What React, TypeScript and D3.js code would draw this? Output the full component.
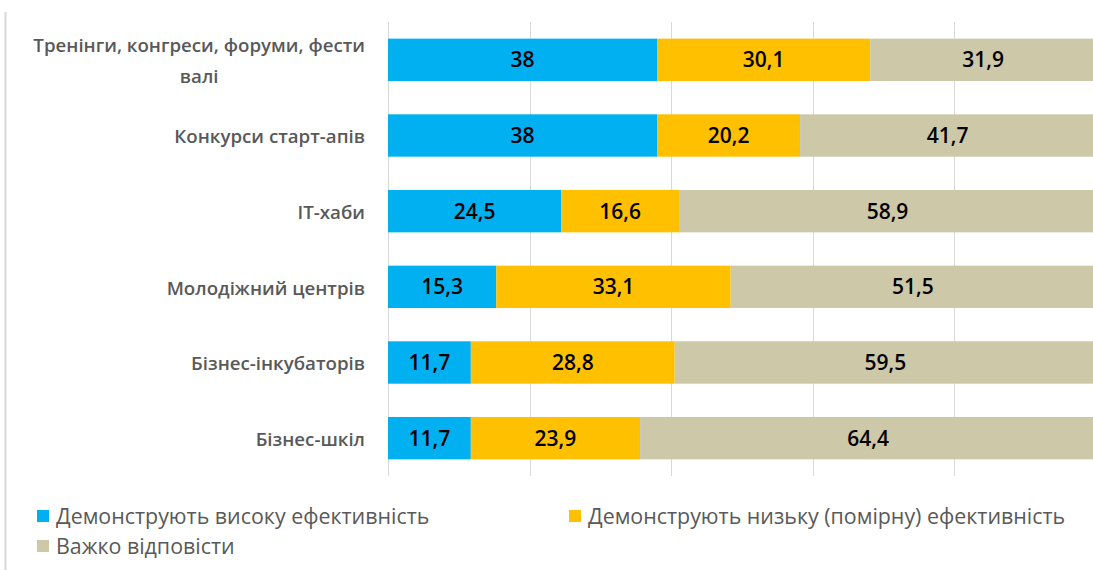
import { useEffect, useRef } from "react";
import * as d3 from "d3";

// categories (first one wraps onto two lines in the original)
const categories = [
  "Тренінги, конгреси, форуми, фести|валі",
  "Конкурси старт-апів",
  "ІТ-хаби",
  "Молодіжний центрів",
  "Бізнес-інкубаторів",
  "Бізнес-шкіл",
];

const seriesNames = [
  "Демонструють високу ефективність",
  "Демонструють низьку (помірну) ефективність",
  "Важко відповісти",
];

const highValues = [38, 38, 24.5, 15.3, 11.7, 11.7];
const lowValues = [30.1, 20.2, 16.6, 33.1, 28.8, 23.9];
const hardValues = [31.9, 41.7, 58.9, 51.5, 59.5, 64.4];

const gridTicks = [0, 20, 40, 60, 80, 100];

const colors = ["#00B0F0", "#FFC000", "#CCC8A8"];

const W = 1093;
const H = 570;

const App = () => {
  const svgRef = useRef<SVGSVGElement | null>(null);

  useEffect(() => {
    const svgEl = svgRef.current;
    if (!svgEl) return;
    const svg = d3.select(svgEl);
    svg.selectAll("*").remove();

    const margin = { top: 22, left: 388, right: -3, bottom: 94 };

    const x = d3
      .scaleLinear()
      .domain([0, 100])
      .range([margin.left, W - margin.right]);

    const y = d3
      .scaleBand()
      .domain(categories)
      .range([margin.top, H - margin.bottom])
      .paddingInner(0.44)
      .paddingOuter(0.22);

    const rows = categories.map((c, i) => ({
      cat: c,
      high: highValues[i],
      low: lowValues[i],
      hard: hardValues[i],
    }));
    const stack = d3.stack<any>().keys(["high", "low", "hard"]);
    const series = stack(rows);

    // chart area left border
    svg
      .append("line")
      .attr("x1", 5.5)
      .attr("x2", 5.5)
      .attr("y1", 12)
      .attr("y2", H)
      .attr("stroke", "#D9D9D9")
      .attr("stroke-width", 2);

    // gridlines
    svg
      .append("g")
      .selectAll("line")
      .data(gridTicks)
      .join("line")
      .attr("x1", (d) => Math.round(x(d)) + 0.5)
      .attr("x2", (d) => Math.round(x(d)) + 0.5)
      .attr("y1", margin.top)
      .attr("y2", H - margin.bottom)
      .attr("stroke", "#D9D9D9")
      .attr("stroke-width", 1);

    // bars
    const groups = svg
      .append("g")
      .selectAll("g")
      .data(series)
      .join("g")
      .attr("fill", (_d, i) => colors[i]);

    groups
      .selectAll("rect")
      .data((s) => s)
      .join("rect")
      .attr("x", (d) => x(d[0]))
      .attr("y", (d) => y(d.data.cat) as number)
      .attr("width", (d) => x(d[1]) - x(d[0]))
      .attr("height", y.bandwidth());

    // value labels
    groups
      .selectAll("text")
      .data((s) => s.map((d) => ({ d, key: s.key })))
      .join("text")
      .attr("x", (o) => (x(o.d[0]) + x(o.d[1])) / 2)
      .attr("y", (o) => (y(o.d.data.cat) as number) + y.bandwidth() / 2)
      .attr("dy", "0.36em")
      .attr("text-anchor", "middle")
      .attr("font-family", "'Open Sans', sans-serif")
      .attr("font-size", 21)
      .attr("font-weight", 600)
      .attr("fill", "#000")
      .text((o) => String(o.d.data[o.key]).replace(".", ","));

    // category labels
    const labelRight = 365;
    const labelSize = 18.7;
    categories.forEach((c) => {
      const lines = c.split("|");
      const cy = (y(c) as number) + y.bandwidth() / 2 + 1;
      const lineH = 31;
      const t0 = svg
        .append("text")
        .attr("x", labelRight)
        .attr("y", cy - ((lines.length - 1) * lineH) / 2)
        .attr("dy", "0.36em")
        .attr("text-anchor", "end")
        .attr("font-family", "'Open Sans', sans-serif")
        .attr("font-size", labelSize)
        .attr("font-weight", 600)
        .attr("fill", "#595959")
        .text(lines[0]);
      if (lines.length > 1) {
        const w = (t0.node() as SVGTextElement).getComputedTextLength();
        const mid = labelRight - w / 2;
        lines.slice(1).forEach((ln, j) => {
          svg
            .append("text")
            .attr("x", mid)
            .attr("y", cy - ((lines.length - 1) * lineH) / 2 + (j + 1) * lineH)
            .attr("dy", "0.36em")
            .attr("text-anchor", "middle")
            .attr("font-family", "'Open Sans', sans-serif")
            .attr("font-size", labelSize)
            .attr("font-weight", 600)
            .attr("fill", "#595959")
            .text(ln);
        });
      }
    });

    // legend
    const legendPos = [
      { x: 37, y: 516 },
      { x: 569, y: 516 },
      { x: 37, y: 546 },
    ];
    const legend = svg
      .append("g")
      .selectAll("g")
      .data(seriesNames)
      .join("g")
      .attr("transform", (_d, i) => `translate(${legendPos[i].x},${legendPos[i].y})`);

    legend
      .append("rect")
      .attr("x", 0)
      .attr("y", -6)
      .attr("width", 12)
      .attr("height", 12)
      .attr("fill", (_d, i) => colors[i]);

    legend
      .append("text")
      .attr("x", 19)
      .attr("y", 0)
      .attr("dy", "0.36em")
      .attr("font-family", "'Open Sans', sans-serif")
      .attr("font-size", 21.4)
      .attr("fill", "#595959")
      .text((d) => d);
  }, []);

  return (
    <svg
      ref={svgRef}
      width={W}
      height={H}
      style={{ position: "absolute", left: 0, top: 0, display: "block", background: "#fff" }}
    />
  );
};

export default App;
